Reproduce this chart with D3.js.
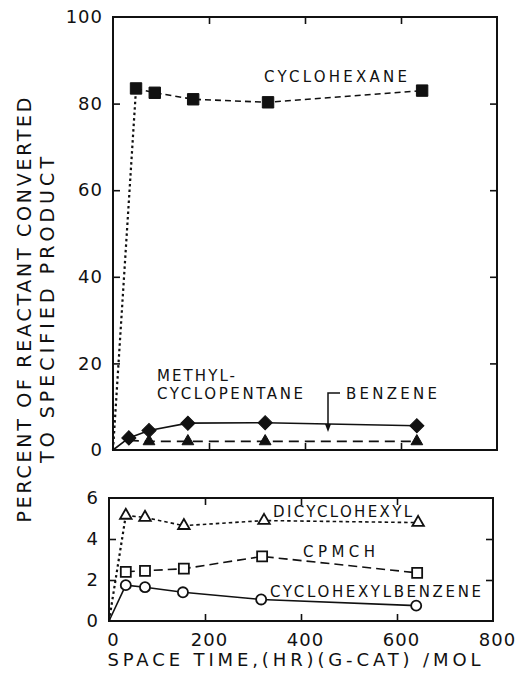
<!DOCTYPE html>
<html>
<head>
<meta charset="utf-8">
<script src="https://cdn.jsdelivr.net/npm/d3@7"></script>
<style>
  html, body { margin: 0; padding: 0; background: #fff; }
  svg { display: block; }
  text { font-family: "DejaVu Sans", "Liberation Sans", sans-serif; fill: #111; }
</style>
</head>
<body>
<svg id="chart" width="521" height="679"></svg>
<script>
// Conversion to products versus space time, (hr)(g-cat)/mol
const xTickValues = [0, 200, 400, 600, 800];
const xInnerTicks = [200, 400, 600];
const topYTicks = [0, 20, 40, 60, 80, 100];
const topYInner = [20, 40, 60, 80];
const bottomYTicks = [0, 2, 4, 6];
const bottomYInner = [2, 4];

// Upper panel: main products
const cyclohexaneX = [0, 48, 87, 167, 323, 644];
const cyclohexaneY = [0, 83.5, 82.5, 81.0, 80.3, 83.0];
const benzeneX = [0, 33, 75, 156, 317, 633];
const benzeneY = [0, 2.8, 4.5, 6.2, 6.3, 5.6];
const mcpX = [33, 75, 156, 317, 633];
const mcpY = [2.2, 2.0, 2.0, 2.0, 2.0];

// Lower panel: minor products
const dicyclohexylX = [0, 35, 75, 156, 323, 644];
const dicyclohexylY = [0, 5.15, 5.05, 4.65, 4.9, 4.8];
const cpmchX = [35, 75, 156, 319, 642];
const cpmchY = [2.4, 2.45, 2.55, 3.15, 2.35];
const chbX = [0, 35, 75, 154, 317, 640];
const chbY = [0, 1.75, 1.65, 1.4, 1.05, 0.75];

const zip = (xs, ys) => xs.map((x, i) => ({ x, y: ys[i] }));

const svg = d3.select("#chart");
const INK = "#111";
const fmt = d3.format("d");

const xTop = d3.scaleLinear().domain([0, 800]).range([113, 497]);
const yTop = d3.scaleLinear().domain([0, 100]).range([450, 17]);
const xBot = d3.scaleLinear().domain([0, 800]).range([109, 493]);
const yBot = d3.scaleLinear().domain([0, 6]).range([621, 498]);

function panel(x, y, yInner, yLabels) {
  const g = svg.append("g");
  const [x0, x1] = x.range();
  const [y0, y1] = y.range();
  // inward ticks on all four sides
  g.append("g").attr("transform", `translate(${x0},0)`)
    .call(d3.axisLeft(y).tickValues(yInner).tickSize(-7).tickFormat(""))
    .call(s => s.select(".domain").remove());
  g.append("g").attr("transform", `translate(${x1},0)`)
    .call(d3.axisRight(y).tickValues(yInner).tickSize(-7).tickFormat(""))
    .call(s => s.select(".domain").remove());
  g.append("g").attr("transform", `translate(0,${y0})`)
    .call(d3.axisBottom(x).tickValues(xInnerTicks).tickSize(-7).tickFormat(""))
    .call(s => s.select(".domain").remove());
  g.append("g").attr("transform", `translate(0,${y1})`)
    .call(d3.axisTop(x).tickValues(xInnerTicks).tickSize(-7).tickFormat(""))
    .call(s => s.select(".domain").remove());
  g.selectAll(".tick line").attr("stroke", INK).attr("stroke-width", 1.6);
  // y tick labels
  g.append("g").attr("transform", `translate(${x0 - 10},0)`)
    .call(d3.axisLeft(y).tickValues(yLabels).tickSize(0).tickPadding(0).tickFormat(fmt))
    .call(s => s.select(".domain").remove())
    .call(s => s.selectAll("text").attr("font-size", 18).attr("letter-spacing", 1)
      .attr("fill", INK).style("font-family", '"DejaVu Sans", sans-serif'));
  // frame
  g.append("rect").attr("x", x0).attr("y", y1)
    .attr("width", x1 - x0).attr("height", y0 - y1)
    .attr("fill", "none").attr("stroke", INK).attr("stroke-width", 2);
  return g;
}

panel(xTop, yTop, topYInner, topYTicks);
panel(xBot, yBot, bottomYInner, bottomYTicks);

// x tick labels under the lower panel
svg.append("g").attr("transform", `translate(4,${yBot.range()[0] + 12})`)
  .call(d3.axisBottom(xBot).tickValues(xTickValues).tickSize(0).tickPadding(0).tickFormat(fmt))
  .call(s => s.select(".domain").remove())
  .call(s => s.selectAll("text").attr("font-size", 18).attr("letter-spacing", 1)
    .attr("fill", INK).style("font-family", '"DejaVu Sans", sans-serif'));

function drawLine(pts, x, y, dash, width) {
  svg.append("path")
    .attr("d", d3.line().x(d => x(d.x)).y(d => y(d.y))(pts))
    .attr("fill", "none").attr("stroke", INK)
    .attr("stroke-width", width)
    .attr("stroke-dasharray", dash);
}

function drawMarks(pts, x, y, type, size, filled, rotate) {
  svg.append("g").selectAll("path").data(pts).join("path")
    .attr("d", d3.symbol().type(type).size(size))
    .attr("transform", d => `translate(${x(d.x)},${y(d.y)})` + (rotate ? ` rotate(${rotate})` : ""))
    .attr("fill", filled ? INK : "#fff")
    .attr("stroke", INK)
    .attr("stroke-width", filled ? 1 : 1.8);
}

// ---- upper panel ----
const cyc = zip(cyclohexaneX, cyclohexaneY);
drawLine(cyc.slice(0, 2), xTop, yTop, "2.5,3", 2.2);
drawLine(cyc.slice(1), xTop, yTop, "6,4", 1.6);
drawMarks(cyc.slice(1), xTop, yTop, d3.symbolSquare, 130, true);

// methylcyclopentane: first point sits under the first benzene diamond
const mcp = zip(mcpX, mcpY);
drawLine(mcp, xTop, yTop, "10,6", 1.8);
drawMarks(mcp.slice(1), xTop, yTop, d3.symbolTriangle, 60, true);

const ben = zip(benzeneX, benzeneY);
drawLine(ben, xTop, yTop, null, 1.6);
drawMarks(ben.slice(1), xTop, yTop, d3.symbolSquare, 100, true, 45);

// ---- lower panel ----
const dch = zip(dicyclohexylX, dicyclohexylY);
drawLine(dch.slice(0, 2), xBot, yBot, "2.5,3", 2.2);
drawLine(dch.slice(1), xBot, yBot, "3.5,3", 1.6);
drawMarks(dch.slice(1), xBot, yBot, d3.symbolTriangle, 58, false);

const cpm = zip(cpmchX, cpmchY);
drawLine(cpm, xBot, yBot, "9,5", 1.6);
drawMarks(cpm, xBot, yBot, d3.symbolSquare, 100, false);

const chb = zip(chbX, chbY);
drawLine(chb, xBot, yBot, null, 1.6);
drawMarks(chb.slice(1), xBot, yBot, d3.symbolCircle, 80, false);

// ---- series labels ----
const labels = [
  { t: "CYCLOHEXANE", x: 264, y: 82, w: 143 },
  { t: "METHYL-", x: 157, y: 381, w: 78 },
  { t: "CYCLOPENTANE", x: 157, y: 399, w: 146 },
  { t: "BENZENE", x: 346, y: 399, w: 91 },
  { t: "DICYCLOHEXYL", x: 273, y: 517, w: 139 },
  { t: "CPMCH", x: 303, y: 557, w: 72 },
  { t: "CYCLOHEXYLBENZENE", x: 270, y: 597, w: 211 }
];
svg.append("g").selectAll("text").data(labels).join("text")
  .attr("x", d => d.x).attr("y", d => d.y)
  .attr("font-size", 15)
  .attr("textLength", d => d.w).attr("lengthAdjust", "spacing")
  .text(d => d.t);

// leader from the BENZENE label
svg.append("path")
  .attr("d", "M340,393 H328 V426")
  .attr("fill", "none").attr("stroke", INK).attr("stroke-width", 1.5);
svg.append("path")
  .attr("d", "M325,424 L331,424 L328,432 Z")
  .attr("fill", INK);

// ---- axis titles ----
svg.append("text")
  .attr("x", 294).attr("y", 666)
  .attr("text-anchor", "middle")
  .attr("font-size", 18)
  .attr("textLength", 373).attr("lengthAdjust", "spacing")
  .text("SPACE TIME,(HR)(G-CAT) /MOL");

const yTitle = svg.append("g").attr("transform", "translate(0,310) rotate(-90)");
yTitle.append("text")
  .attr("x", 0).attr("y", 31)
  .attr("text-anchor", "middle")
  .attr("font-size", 19)
  .attr("textLength", 425).attr("lengthAdjust", "spacing")
  .text("PERCENT OF REACTANT CONVERTED");
yTitle.append("text")
  .attr("x", 0).attr("y", 54)
  .attr("text-anchor", "middle")
  .attr("font-size", 19)
  .attr("textLength", 306).attr("lengthAdjust", "spacing")
  .text("TO SPECIFIED PRODUCT");
</script>
</body>
</html>
